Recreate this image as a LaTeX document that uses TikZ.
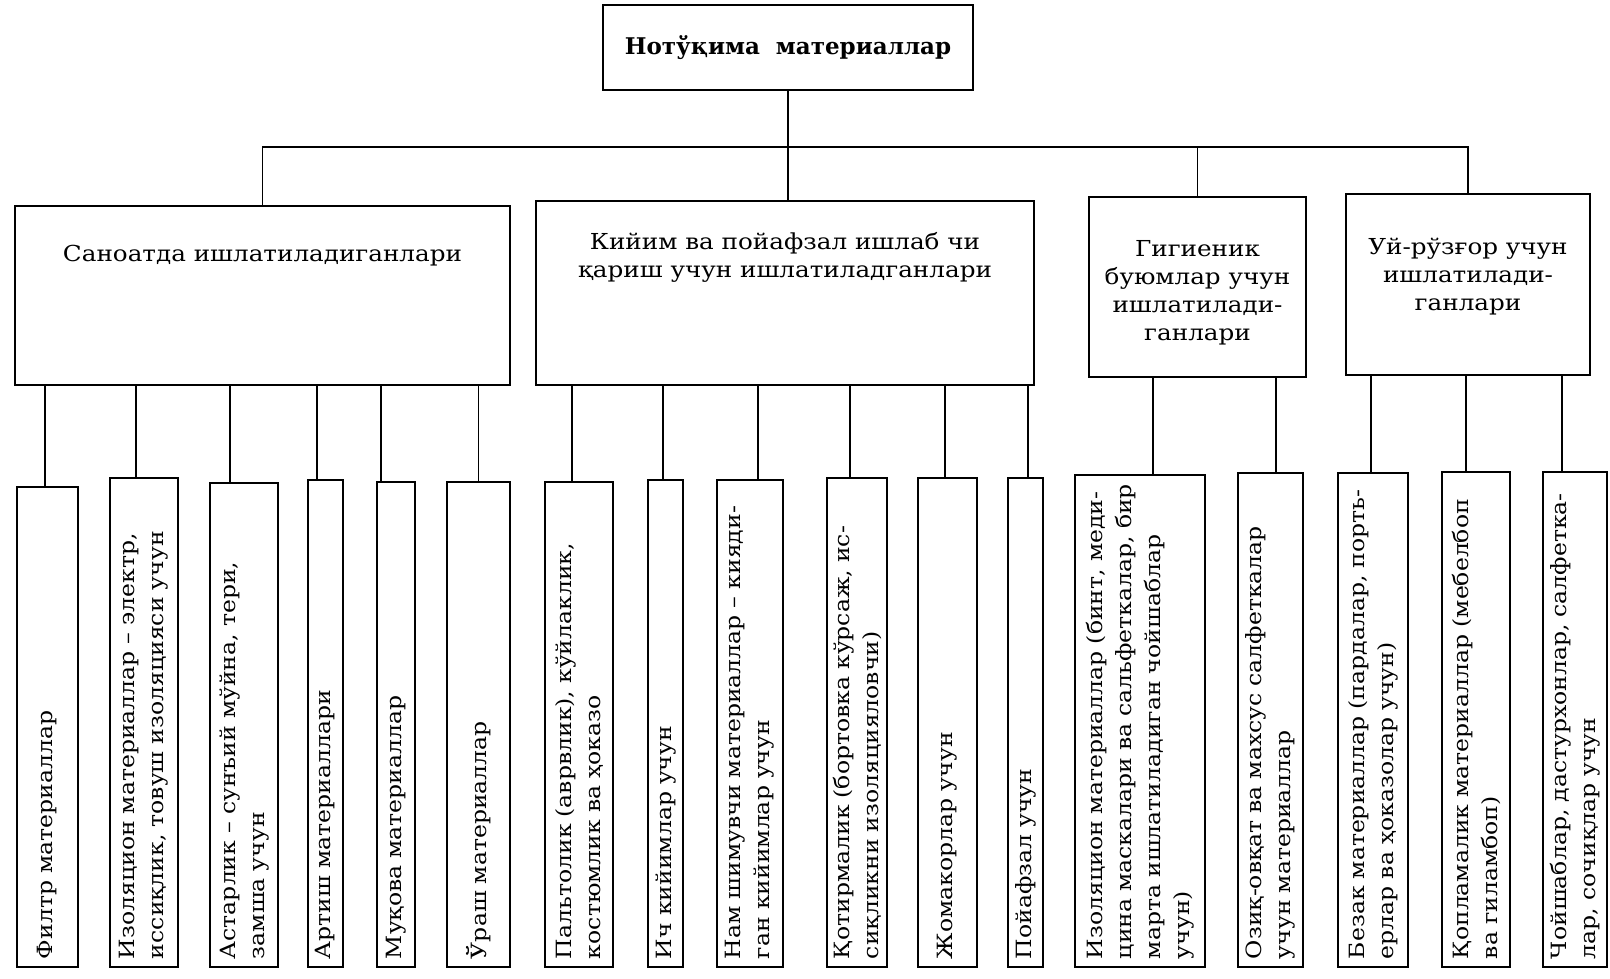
\documentclass[tikz,border=0pt]{standalone}
\usepackage{fontspec}
\setmainfont{DejaVu Serif}[FakeStretch=1.12]
\newfontfamily\titlefont{DejaVu Serif}
\usetikzlibrary{positioning}

\tikzset{
  box/.style={draw, line width=1.5pt, inner sep=0pt},
  headtext/.style={font=\fontsize{22}{28}\selectfont, align=center, inner sep=0pt},
  leaf/.style={draw, line width=1.5pt, rotate=90, align=left, inner xsep=8pt, inner ysep=2pt, font=\fontsize{21}{29}\selectfont},
  link/.style={line width=1.5pt}
}

\begin{document}
\begin{tikzpicture}[x=1pt, y=-1pt]
  \useasboundingbox (0,0) rectangle (1610,978);

  % top
  \node[box, minimum width=370pt, minimum height=85pt, font=\titlefont\fontsize{23}{28}\selectfont\bfseries] (top) at (788,47.5) {Нотўқима\ \ материаллар};

  % second level
  \node[box, minimum width=495pt, minimum height=179pt] (sano) at (262.5,295.5) {};
  \node[box, minimum width=498pt, minimum height=184pt] (kiyim) at (785,293) {};
  \node[box, minimum width=217pt, minimum height=180pt] (gig) at (1197.5,287) {};
  \node[box, minimum width=244pt, minimum height=181pt] (uy) at (1468,284.5) {};

  \node[headtext, below=40pt of sano.north] (sanoT) {Саноатда ишлатиладиганлари};
  \node[headtext, below=32pt of kiyim.north] (kiyimT) {Кийим ва пойафзал ишлаб чи\\қариш учун ишлатиладганлари};
  \node[headtext, below=44pt of gig.north] (gigT) {Гигиеник\\буюмлар учун\\ишлатилади-\\ганлари};
  \node[headtext, below=45pt of uy.north] (uyT) {Уй-рўзғор учун\\ишлатилади-\\ганлари};

  % bus
  \coordinate (bus) at (0,147);
  \draw[link] (top.south) -- (top.south |- kiyim.north);
  \draw[link] (sano.north) -- (sano.north |- bus) -- (uy.north |- bus) -- (uy.north);
  \draw[link] (gig.north) -- (gig.north |- bus);

  % leaves: name/centre x/width/top/parent/stem offset/text
  \foreach \n/\cx/\w/\t/\p/\dx/\txt in {
    l1/47.5/61/487/sano/-2.5/{Филтр материаллар},
    l2/144/68/478/sano/-8/{Изоляцион материаллар – электр,\\иссиқлик, товуш изоляцияси учун},
    l3/244/68/483/sano/-14/{Астарлик – сунъий мўйна, тери,\\замша учун},
    l4/325.5/35/480/sano/-8.5/{Артиш материаллари},
    l5/396/38/482/sano/-15/{Муқова материаллар},
    l6/478.5/63/482/sano/0/{Ўраш материаллар},
    l7/579/68/482/kiyim/-7/{Пальтолик (аврвлик), кўйлаклик,\\костюмлик ва ҳоказо},
    l8/665.5/35/480/kiyim/-2.5/{Ич кийимлар учун},
    l9/750/66/480/kiyim/8/{Нам шимувчи материаллар – кияди-\\ган кийимлар учун},
    l10/857/60/478/kiyim/-7/{Қотирмалик (бортовка кўрсаж, ис-\\сиқликни изоляцияловчи)},
    l11/947.5/59/478/kiyim/-2.5/{Жомакорлар учун},
    l12/1025.5/35/478/kiyim/2.5/{Пойафзал учун},
    l13/1140/130/475/gig/13/{Изоляцион материаллар (бинт, меди-\\цина маскалари ва сальфеткалар, бир\\марта ишлатиладиган чойшаблар\\учун)},
    l14/1270.5/65/473/gig/5.5/{Озиқ-овқат ва махсус салфеткалар\\учун материаллар},
    l15/1373/70/473/uy/-2/{Безак материаллар (пардалар, порть-\\ерлар ва ҳоказолар учун)},
    l16/1476/68/472/uy/-10/{Қопламалик материаллар (мебелбоп\\ва гиламбоп)},
    l17/1575/64/472/uy/-13/{Чойшаблар, дастурхонлар, салфетка-\\лар, сочиқлар учун}
  }{
    \pgfmathsetmacro\hh{967-\t}
    \pgfmathsetmacro\tw{\hh-16}
    \node[leaf, minimum width=\hh pt, minimum height=\w pt, text width=\tw pt] (\n) at (\cx,{(\t+967)/2}) {\txt};
    \coordinate (\n s) at ([xshift=\dx pt]\n.east);
    \draw[link] (\n s) -- (\n s |- \p.south);
  }
\end{tikzpicture}
\end{document}
